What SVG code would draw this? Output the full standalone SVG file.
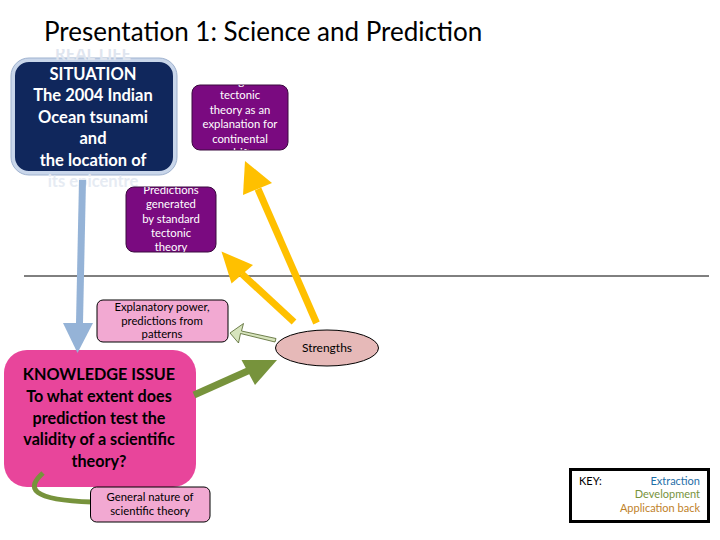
<svg xmlns="http://www.w3.org/2000/svg" width="720" height="540" viewBox="0 0 720 540">
<style>
.t{font-family:Lato,"Open Sans","DejaVu Sans",sans-serif}
.w{fill:#fff;font-size:16.5px;font-weight:bold;text-anchor:middle}
.pw{fill:#fff;font-size:11.3px;text-anchor:middle}
.pk{fill:#000;font-size:11.3px;text-anchor:middle}
.kb{fill:#000;font-size:16.2px;font-weight:bold;text-anchor:middle}
.purple{fill:#7a0a80;stroke:#3a0a3e;stroke-width:1}
.pink{fill:#f2a9d2;stroke:#000;stroke-width:1}
</style>
<defs>
<clipPath id="c1"><rect x="192" y="85" width="96" height="65" rx="8"/></clipPath>
<clipPath id="c2"><rect x="126" y="187" width="90" height="65" rx="8"/></clipPath>
<clipPath id="c0"><rect x="0" y="49" width="200" height="140"/></clipPath>
</defs>
<rect width="720" height="540" fill="#fff"/>
<text class="t" x="44" y="41" font-size="26" fill="#000">Presentation 1: Science and Prediction</text>
<line x1="24" y1="276" x2="709" y2="276" stroke="#000" stroke-width="1"/>

<g id="real-life">
<rect x="13" y="60" width="162" height="113" rx="16" fill="#10275c" stroke="#c9d6ea" stroke-width="4"/>
<rect x="11" y="58" width="166" height="117" rx="18" fill="none" stroke="#9fb2cf" stroke-width="1"/>
<g clip-path="url(#c0)">
<text class="t w" x="93" y="60" style="fill:#dfe5ef">REAL LIFE</text>
</g>
<text class="t w" x="93" y="80">SITUATION</text>
<text class="t w" x="93" y="101">The 2004 Indian</text>
<text class="t w" x="93" y="123">Ocean tsunami</text>
<text class="t w" x="93" y="144">and</text>
<text class="t w" x="93" y="166">the location of</text>
<text class="t w" x="93" y="187" style="fill:#e6ebf3">its epicentre</text>
</g>

<g id="strength-box">
<rect class="purple" x="192" y="85" width="96" height="65" rx="8"/>
<g clip-path="url(#c1)">
<text class="t pw" x="240" y="85">Strength of</text>
<text class="t pw" x="240" y="99">tectonic</text>
<text class="t pw" x="240" y="114">theory as an</text>
<text class="t pw" x="240" y="128">explanation for</text>
<text class="t pw" x="240" y="143">continental</text>
<text class="t pw" x="240" y="157">drift</text>
</g>
</g>

<g id="predictions-box">
<rect class="purple" x="126" y="187" width="90" height="65" rx="8"/>
<g clip-path="url(#c2)">
<text class="t pw" x="171" y="194">Predictions</text>
<text class="t pw" x="171" y="208">generated</text>
<text class="t pw" x="171" y="223">by standard</text>
<text class="t pw" x="171" y="237">tectonic</text>
<text class="t pw" x="171" y="251">theory</text>
</g>
</g>

<g id="explanatory-box">
<rect class="pink" x="97" y="300" width="131" height="42" rx="6"/>
<text class="t pk" x="162" y="311">Explanatory power,</text>
<text class="t pk" x="162" y="325">predictions from</text>
<text class="t pk" x="162" y="338">patterns</text>
</g>

<g id="strengths">
<ellipse cx="327" cy="348" rx="51.5" ry="18" fill="#e6b9b8" stroke="#000" stroke-width="1"/>
<text class="t pk" x="327" y="352" style="font-size:12px">Strengths</text>
</g>

<g id="knowledge-issue">
<rect x="4" y="350" width="192" height="137" rx="23" fill="#e8459b"/>
<text class="t kb" x="99" y="380">KNOWLEDGE ISSUE</text>
<text class="t kb" x="99" y="402">To what extent does</text>
<text class="t kb" x="99" y="424">prediction test the</text>
<text class="t kb" x="99" y="445">validity of a scientific</text>
<text class="t kb" x="99" y="467">theory?</text>
</g>

<g id="connectors">
<path d="M82.5,180 L79.5,323" stroke="#95b3d7" stroke-width="7" fill="none"/>
<polygon points="63,323 93,323 77.5,353" fill="#95b3d7"/>
<path d="M316.5,323 L258,189" stroke="#ffc000" stroke-width="7" fill="none"/>
<polygon points="245,161 243,195 272,183" fill="#ffc000"/>
<path d="M294,322 L242,274" stroke="#ffc000" stroke-width="7" fill="none"/>
<polygon points="221.5,251.5 231.5,283.5 253,265" fill="#ffc000"/>
<path d="M275,342 L240.5,333.5 L238.5,343 L230,333 L243.5,323.5 L241.5,331 L276,338.5 Z" fill="#d7e4bd" stroke="#4f6228" stroke-width="0.8"/>
<path d="M194,395 L250,370" stroke="#77933c" stroke-width="7" fill="none"/>
<polygon points="277,360 241.5,360 255,385" fill="#77933c"/>
<path d="M43,473 C26,488 30,500 92,502" stroke="#77933c" stroke-width="5" fill="none"/>
</g>

<g id="general-nature">
<rect class="pink" x="90.5" y="487" width="119.5" height="35" rx="6"/>
<text class="t pk" x="150" y="501">General nature of</text>
<text class="t pk" x="150" y="515">scientific theory</text>
</g>

<g id="key">
<rect x="570.5" y="469.5" width="138" height="52" fill="#fff" stroke="#000" stroke-width="3"/>
<text class="t" x="579" y="485" font-size="11" fill="#000">KEY:</text>
<text class="t" x="700" y="485" font-size="11" fill="#1f6fa8" text-anchor="end">Extraction</text>
<text class="t" x="700" y="498" font-size="11" fill="#77933c" text-anchor="end">Development</text>
<text class="t" x="700" y="512" font-size="11" fill="#c0822a" text-anchor="end">Application back</text>
</g>
</svg>
